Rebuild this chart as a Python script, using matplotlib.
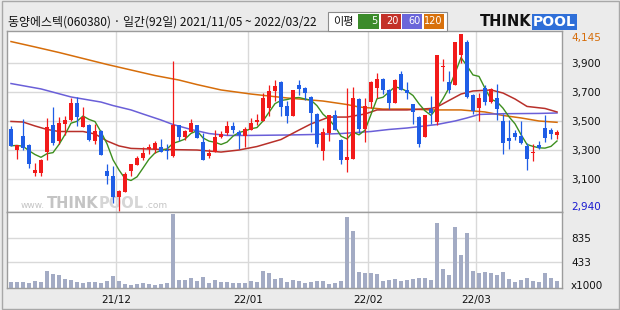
import matplotlib
matplotlib.use('Agg')
import matplotlib.pyplot as plt
import numpy as np
import pandas as pd
from matplotlib.patches import Rectangle

plt.rcParams['font.family'] = ['Noto Sans CJK KR', 'DejaVu Sans']

# ---------------- data ----------------
title = "동양에스텍(060380) · 일간(92일) 2021/11/05 ~ 2022/03/22"
month_pos = [17.5, 39.5, 59.5, 77.5]
month_labels = ["21/12", "22/01", "22/02", "22/03"]
price_ticks = [3100, 3300, 3500, 3700, 3900]
vol_ticks = [433, 835]
max_label = "4,145"
min_label = "2,940"

opens = [3445, 3300, 3400, 3335, 3140, 3145, 3285, 3475, 3360, 3480,
         3510, 3625, 3460, 3475, 3365, 3430, 3155, 3125, 2980, 3015,
         3160, 3200, 3245, 3310, 3305, 3320, 3300, 3260, 3470, 3390,
         3425, 3470, 3355, 3260, 3285, 3390, 3420, 3465, 3425, 3395,
         3440, 3495, 3500, 3590, 3705, 3770, 3605, 3535, 3745, 3725,
         3665, 3550, 3295, 3420, 3540, 3370, 3230, 3240, 3650, 3445,
         3630, 3725, 3790, 3715, 3625, 3820, 3715, 3615, 3530, 3390,
         3580, 3495, 3870, 3770, 3750, 3950, 4040, 3680, 3590, 3725,
         3630, 3655, 3500, 3385, 3420, 3395, 3330, 3280, 3335, 3450,
         3435, 3405]
highs = [3465, 3335, 3515, 3340, 3210, 3240, 3520, 3595, 3530, 3535,
         3660, 3665, 3595, 3480, 3480, 3435, 3205, 3190, 3025, 3150,
         3205, 3260, 3325, 3340, 3360, 3375, 3340, 3915, 3475, 3440,
         3515, 3475, 3415, 3310, 3435, 3430, 3500, 3495, 3435, 3460,
         3520, 3545, 3690, 3745, 3780, 3775, 3640, 3715, 3780, 3730,
         3670, 3555, 3450, 3540, 3575, 3375, 3725, 3735, 3660, 3660,
         3775, 3830, 3795, 3720, 3790, 3845, 3770, 3620, 3535, 3540,
         3670, 3950, 3925, 3840, 4040, 4100, 4055, 3685, 3690, 3750,
         3725, 3755, 3550, 3505, 3435, 3500, 3350, 3340, 3360, 3540,
         3450, 3435]
lows = [3330, 3240, 3300, 3180, 3120, 3125, 3235, 3335, 3340, 3405,
        3500, 3465, 3460, 3365, 3345, 3270, 3065, 2940, 2880, 3015,
        3120, 3200, 3230, 3275, 3280, 3285, 3240, 3255, 3360, 3370,
        3425, 3385, 3230, 3245, 3285, 3385, 3405, 3420, 3305, 3325,
        3440, 3470, 3500, 3535, 3640, 3535, 3485, 3535, 3680, 3645,
        3425, 3325, 3235, 3365, 3440, 3205, 3150, 3240, 3415, 3355,
        3590, 3660, 3685, 3580, 3625, 3710, 3650, 3480, 3325, 3390,
        3480, 3470, 3775, 3690, 3745, 3895, 3660, 3550, 3500, 3610,
        3625, 3510, 3275, 3310, 3370, 3340, 3165, 3225, 3305, 3355,
        3375, 3375]
closes = [3330, 3335, 3315, 3205, 3165, 3235, 3460, 3350, 3485, 3505,
          3625, 3525, 3530, 3370, 3430, 3270, 3120, 2980, 3020, 3135,
          3205, 3245, 3280, 3325, 3350, 3290, 3295, 3475, 3390, 3430,
          3485, 3385, 3230, 3280, 3390, 3410, 3465, 3435, 3405, 3445,
          3485, 3505, 3660, 3705, 3740, 3595, 3535, 3715, 3720, 3690,
          3555, 3345, 3425, 3540, 3440, 3230, 3250, 3660, 3445, 3600,
          3770, 3790, 3710, 3625, 3780, 3710, 3695, 3565, 3340, 3540,
          3555, 3950, 3880, 3710, 4040, 4095, 3665, 3570, 3660, 3630,
          3720, 3580, 3350, 3365, 3390, 3350, 3240, 3285, 3315, 3380,
          3410, 3425]
volumes = [111, 111, 111, 95, 122, 116, 291, 242, 225, 155,
           144, 111, 90, 106, 106, 100, 133, 209, 127, 78,
           67, 83, 95, 83, 67, 83, 95, 1222, 144, 139,
           176, 133, 193, 95, 144, 111, 106, 95, 95, 95,
           122, 116, 291, 258, 165, 176, 116, 144, 133, 100,
           111, 127, 127, 83, 100, 133, 1173, 944, 275, 263,
           263, 242, 133, 144, 160, 133, 144, 160, 176, 176,
           144, 1075, 324, 225, 1010, 552, 912, 291, 263, 275,
           258, 225, 275, 160, 111, 144, 176, 133, 111, 258,
           176, 133]

ma20_idx = [0, 2, 4, 6, 8, 12, 14, 16, 18, 20, 25, 31, 35, 38, 41, 45, 48,
            50, 53, 56, 59, 61, 66, 70, 71, 73, 75, 77, 80, 82, 84, 86, 89, 91]
ma20_val = [3497, 3493, 3466, 3442, 3428, 3428, 3411, 3363, 3329, 3312,
            3305, 3301, 3287, 3301, 3325, 3373, 3438, 3480, 3527, 3527,
            3548, 3576, 3576, 3586, 3596, 3641, 3685, 3706, 3713, 3692,
            3651, 3600, 3586, 3562]
ma60_idx = [0, 5, 10, 15, 17, 20, 22, 25, 27, 30, 33, 36, 40, 46, 50, 55,
            60, 63, 66, 71, 74, 76, 78, 82, 88, 91]
ma60_val = [3757, 3720, 3665, 3630, 3606, 3576, 3548, 3507, 3476, 3442,
            3414, 3401, 3401, 3404, 3407, 3414, 3428, 3442, 3452, 3476,
            3500, 3521, 3545, 3550, 3552, 3555]
ma120_idx = [0, 4, 8, 12, 16, 20, 24, 28, 31, 35, 40, 46, 52, 56, 58, 62,
             66, 70, 75, 79, 82, 85, 88, 91]
ma120_val = [4045, 4008, 3970, 3929, 3888, 3850, 3812, 3781, 3750, 3713,
             3685, 3658, 3637, 3613, 3596, 3582, 3582, 3576, 3576, 3562,
             3538, 3521, 3500, 3491]

# ---------------- style ----------------
RED = '#f21a1a'
BLUE = '#1f5de6'
C_MA5 = '#3d8f1f'
C_MA20 = '#b8302a'
C_MA60 = '#6a5fd8'
C_MA120 = '#d66d0a'
VOLC = '#a3abc4'
GRID = '#d9d9d9'
SPINE = '#9c9c9c'
BG = '#ebebeb'

W, H = 620, 310
fig = plt.figure(figsize=(W / 100, H / 100), dpi=100)
fig.patch.set_facecolor(BG)

L, R = 7, 562
T, M, B = 30.7, 212.3, 287.7
axp = fig.add_axes([L / W, 1 - M / H, (R - L) / W, (M - T) / H])
axv = fig.add_axes([L / W, 1 - B / H, (R - L) / W, (B - M) / H])

n = len(closes)
x = np.arange(n)
o = np.array(opens, float)
c = np.array(closes, float)
h = np.array(highs, float)
l = np.array(lows, float)
cols = np.where(c >= o, RED, BLUE)

# moving averages
ma5 = pd.Series(c).rolling(5, min_periods=1).mean().values
axp.plot(ma120_idx, ma120_val, color=C_MA120, lw=1.1, zorder=2)
axp.plot(ma60_idx, ma60_val, color=C_MA60, lw=1.1, zorder=2)
axp.plot(ma20_idx, ma20_val, color=C_MA20, lw=1.1, zorder=2)
axp.plot(x, ma5, color=C_MA5, lw=1.0, zorder=2)

# candles
axp.vlines(x, l, h, colors=cols, lw=0.9, zorder=3)
axp.bar(x, np.maximum(np.abs(c - o), 6), bottom=np.minimum(o, c), width=0.8,
        color=cols, lw=0, zorder=4)

# volume
axv.bar(x, volumes, width=0.8, color=VOLC, lw=0, zorder=2)

for ax in (axp, axv):
    ax.set_facecolor('white')
    ax.set_xlim(-0.667, 91.833)
    ax.set_xticks(month_pos)
    ax.grid(True, color=GRID, lw=1.0, zorder=0)
    ax.set_axisbelow(True)
    for s in ax.spines.values():
        s.set_color(SPINE)
        s.set_linewidth(1.0)
    ax.yaxis.tick_right()
    ax.tick_params(axis='both', length=0, labelsize=7.5, colors='#111111')
    ax.tick_params(axis='y', pad=6.5)

axp.set_ylim(2873.7, 4119.5)
axp.set_yticks(price_ticks)
axp.set_yticklabels([f"{v:,}" for v in price_ticks], family='DejaVu Sans')
axp.tick_params(axis='x', labelbottom=False)

axv.set_ylim(18, 1250)
axv.set_yticks(vol_ticks)
axv.set_yticklabels([str(v) for v in vol_ticks], family='DejaVu Sans')
axv.set_xticklabels(month_labels, family='DejaVu Sans')
axv.tick_params(axis='x', pad=5)

# max / min labels and unit
fig.text(571 / W, 1 - 38 / H, max_label, color=C_MA120, fontsize=7.5,
         family='DejaVu Sans', va='center', ha='left')
fig.text(571 / W, 1 - 207 / H, min_label, color='#1a1ad0', fontsize=7.5,
         family='DejaVu Sans', va='center', ha='left')
fig.text(571 / W, 1 - 286 / H, "x1000", color='#111111', fontsize=7.5,
         family='DejaVu Sans', va='center', ha='left')

# watermark (behind candles)
wm = dict(transform=fig.transFigure, zorder=1, va='center', ha='left',
          family='DejaVu Sans')
axp.text(21 / W, 1 - 205 / H, "www.", color='#c4c4c4', fontsize=6.5, **wm)
axp.text(46.5 / W, 1 - 203 / H, "THINK", color='#c4c4c4', fontsize=10.5,
         weight='bold', **wm)
axp.text(99 / W, 1 - 203 / H, "POOL", color='#d6d6d6', fontsize=10.5,
         weight='bold', **wm)
axp.text(145 / W, 1 - 205 / H, ".com", color='#c4c4c4', fontsize=6.5, **wm)

# header title
fig.text(8 / W, 1 - 22 / H, title, fontsize=8.6, color='#111111',
         va='center', ha='left')

# legend box
def prect(x0, y0, x1, y1, **kw):
    return Rectangle((x0 / W, 1 - y1 / H), (x1 - x0) / W, (y1 - y0) / H,
                     transform=fig.transFigure, **kw)

fig.patches.append(prect(328, 12, 447, 31, facecolor='white',
                         edgecolor='#8c8c8c', lw=0.8))
fig.text(333.5 / W, 1 - 21.5 / H, "이평", fontsize=8, color='#111111',
         va='center', ha='left')
legend_items = [("5", 358, 379, '#3b8b2b'), ("20", 380.5, 400.5, '#c33129'),
                ("60", 402, 422, '#6b66d9'), ("120", 424, 444, '#d8710c')]
for lab, x0, x1, col in legend_items:
    fig.patches.append(prect(x0, 14.5, x1, 28.5, facecolor=col,
                             edgecolor='none'))
    fig.text((x1 - 1.5) / W, 1 - 21.5 / H, lab, fontsize=7, color='white',
             va='center', ha='right', family='DejaVu Sans')

# logo
fig.text(480 / W, 1 - 22 / H, "THINK", fontsize=10.5, weight='heavy',
         color='#111111', va='center', ha='left', family='DejaVu Sans')
fig.text(533 / W, 1 - 22 / H, "POOL", fontsize=10, weight='bold',
         color='white', va='center', ha='left', family='DejaVu Sans',
         bbox=dict(facecolor='#2f6fd8', edgecolor='none', pad=1.0))

# outer border
fig.patches.append(prect(1.5, 0.5, 618.5, 308.5, facecolor='none',
                         edgecolor='#a8a8a8', lw=1.0))

fig.savefig('out.png', dpi=100, facecolor=BG)
